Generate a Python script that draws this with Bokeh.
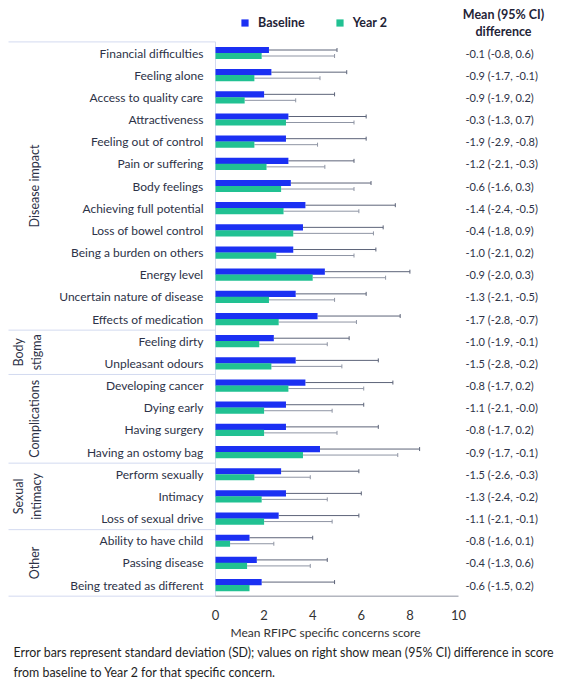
import math
import pandas as pd
from bokeh.plotting import figure
from bokeh.models import (ColumnDataSource, Range1d, FixedTicker, Whisker, TeeHead,
                          Legend, LegendItem, Label, Title)
from bokeh.embed import file_html
from bokeh.resources import INLINE
from bokeh.core.properties import value

# ---------------- data ----------------
concerns = [
    "Financial difficulties", "Feeling alone", "Access to quality care", "Attractiveness",
    "Feeling out of control", "Pain or suffering", "Body feelings", "Achieving full potential",
    "Loss of bowel control", "Being a burden on others", "Energy level",
    "Uncertain nature of disease", "Effects of medication",
    "Feeling dirty", "Unpleasant odours",
    "Developing cancer", "Dying early", "Having surgery", "Having an ostomy bag",
    "Perform sexually", "Intimacy", "Loss of sexual drive",
    "Ability to have child", "Passing disease", "Being treated as different",
]
groups = ["Disease impact", "Body\nstigma", "Complications", "Sexual\nintimacy", "Other"]
group_sizes = [13, 2, 4, 3, 3]

baseline_mean = [2.2, 2.3, 2.0, 3.0, 2.9, 3.0, 3.1, 3.7, 3.6, 3.2, 4.5, 3.3, 4.2,
                 2.4, 3.3, 3.7, 2.9, 2.9, 4.3, 2.7, 2.9, 2.6, 1.4, 1.7, 1.9]
baseline_sd = [2.8, 3.1, 2.9, 3.2, 3.3, 2.7, 3.3, 3.7, 3.3, 3.4, 3.5, 2.9, 3.4,
               3.1, 3.4, 3.6, 3.2, 3.8, 4.1, 3.2, 3.1, 3.3, 2.6, 2.9, 3.0]
year2_mean = [1.9, 1.6, 1.2, 2.9, 1.6, 2.1, 2.7, 2.8, 3.2, 2.5, 4.0, 2.2, 2.6,
              1.8, 2.3, 3.0, 2.0, 2.0, 3.6, 1.6, 1.9, 2.0, 0.6, 1.3, 1.4]
year2_sd = [3.0, 2.7, 2.1, 2.8, 2.6, 2.4, 3.0, 3.1, 3.3, 3.2, 3.0, 2.7, 3.2,
            2.8, 2.9, 3.1, 2.8, 3.0, 3.9, 2.3, 2.7, 2.8, 1.8, 2.6, float("nan")]
difference = [
    "-0.1 (-0.8, 0.6)", "-0.9 (-1.7, -0.1)", "-0.9 (-1.9, 0.2)", "-0.3 (-1.3, 0.7)",
    "-1.9 (-2.9, -0.8)", "-1.2 (-2.1, -0.3)", "-0.6 (-1.6, 0.3)", "-1.4 (-2.4, -0.5)",
    "-0.4 (-1.8, 0.9)", "-1.0 (-2.1, 0.2)", "-0.9 (-2.0, 0.3)", "-1.3 (-2.1, -0.5)",
    "-1.7 (-2.8, -0.7)", "-1.0 (-1.9, -0.1)", "-1.5 (-2.8, -0.2)", "-0.8 (-1.7, 0.2)",
    "-1.1 (-2.1, -0.0)", "-0.8 (-1.7, 0.2)", "-0.9 (-1.7, -0.1)", "-1.5 (-2.6, -0.3)",
    "-1.3 (-2.4, -0.2)", "-1.1 (-2.1, -0.1)", "-0.8 (-1.6, 0.1)", "-0.4 (-1.3, 0.6)",
    "-0.6 (-1.5, 0.2)",
]
x_ticks = [0, 2, 4, 6, 8, 10]
series_labels = ["Baseline", "Year 2"]
header = ["Mean (95% CI)", "difference"]
x_title = "Mean RFIPC specific concerns score"
caption = ["Error bars represent standard deviation (SD); values on right show mean (95% CI) difference in score",
           "from baseline to Year 2 for that specific concern."]

# ---------------- layout / style ----------------
W, H = 561, 679
FRAME_H = 597
X0_PX, PX_PER_UNIT = 215.0, 24.3
ROW0_PX, ROW_PX = 52.5, 22.17
X_START = -X0_PX / PX_PER_UNIT
X_END = X_START + W / PX_PER_UNIT
Y_TOP = -ROW0_PX / ROW_PX
Y_BOTTOM = Y_TOP + FRAME_H / ROW_PX


def px_x(px):
    return X_START + px / PX_PER_UNIT


def px_y(py):
    return Y_TOP + py / ROW_PX


BLUE = "#1b30f3"
GREEN = "#21c192"
TEXT = "#2d3247"
SEP = "#d3daf0"
FONT = "Lato"
OFF = 3.0 / ROW_PX
BAR_H = 6.2 / ROW_PX

n = len(concerns)
df = pd.DataFrame({
    "concern": concerns,
    "row": list(range(n)),
    "bm": baseline_mean, "bsd": baseline_sd,
    "ym": year2_mean, "ysd": year2_sd,
    "diff": difference,
})
df["yb"] = df["row"] - OFF
df["yy"] = df["row"] + OFF
df["bhi"] = df["bm"] + df["bsd"]
df["yhi"] = df["ym"] + df["ysd"]
src = ColumnDataSource(df)
src_yw = ColumnDataSource(df[df["ysd"].notna()])

p = figure(width=W, height=H, output_backend="svg", toolbar_location=None,
           x_range=Range1d(X_START, X_END), y_range=Range1d(Y_BOTTOM, Y_TOP),
           y_axis_location=None, min_border_left=0, min_border_right=0,
           min_border_top=0, min_border_bottom=H - FRAME_H)
p.outline_line_color = None
p.xgrid.visible = False
p.ygrid.visible = False
p.background_fill_color = "white"
p.border_fill_color = "white"

ax = p.xaxis[0]
ax.ticker = FixedTicker(ticks=x_ticks)
ax.axis_line_color = None
ax.major_tick_line_color = None
ax.minor_tick_line_color = None
ax.major_label_text_font = FONT
ax.major_label_text_font_size = "13px"
ax.major_label_text_color = "#333333"
ax.major_label_standoff = 6

# group separators and left frame lines
bounds = [-0.5]
for s in group_sizes:
    bounds.append(bounds[-1] + s)
p.segment(x0=px_x(8), x1=0, y0=bounds, y1=bounds, line_color=SEP, line_width=1)
p.segment(x0=[0], x1=[0], y0=[-0.5], y1=[n - 0.5], line_color=SEP, line_width=1)
p.segment(x0=[0], x1=[x_ticks[-1]], y0=[n - 0.5], y1=[n - 0.5], line_color="#8c919e", line_width=1)

# bars
rb = p.hbar(y="yb", left=0, right="bm", height=BAR_H, source=src, fill_color=BLUE, line_color=None)
ry = p.hbar(y="yy", left=0, right="ym", height=BAR_H, source=src, fill_color=GREEN, line_color=None)

# error bars
p.add_layout(Whisker(source=src, base="yb", lower="bm", upper="bhi", dimension="width",
                     line_color="#5d6479", line_width=1, lower_head=None,
                     upper_head=TeeHead(size=4, line_color="#5d6479", line_width=1)))
p.add_layout(Whisker(source=src_yw, base="yy", lower="ym", upper="yhi", dimension="width",
                     line_color="#8f95a4", line_width=1, lower_head=None,
                     upper_head=TeeHead(size=4, line_color="#8f95a4", line_width=1)))

# category labels
p.text(x=px_x(203), y="row", text="concern", source=src, text_align="right",
       text_baseline="middle", text_font=value(FONT), text_font_size="12px", text_color=TEXT)

# group labels
g_y, g_x = [], []
start = 0
for g, s in zip(groups, group_sizes):
    g_y.append(start + s / 2 - 0.5)
    g_x.append(px_x(27) if "\n" in g else px_x(34))
    start += s
p.text(x=g_x, y=g_y, text=groups, angle=math.pi / 2, text_align="center",
       text_baseline="middle", text_font=value(FONT), text_font_size="12.5px",
       text_color=TEXT, text_line_height=1.25)

# right column
p.text(x=px_x(465), y="row", text="diff", source=src, text_align="left",
       text_baseline="middle", text_font=value(FONT), text_font_size="11px", text_color=TEXT)

# header
for txt, py in zip(header, [14, 31]):
    p.add_layout(Label(x=px_x(503), y=px_y(py), text=txt, text_align="center",
                       text_baseline="middle", text_font=FONT, text_font_size="12.5px",
                       text_font_style="bold", text_color="#1f2437"))

# legend
legend = Legend(items=[LegendItem(label=series_labels[0], renderers=[rb]),
                       LegendItem(label=series_labels[1], renderers=[ry])],
                location=(240, FRAME_H - 30), orientation="horizontal",
                border_line_color=None, background_fill_alpha=0, padding=0, margin=0,
                spacing=30, label_standoff=9, glyph_width=9, glyph_height=9, label_height=9,
                label_text_font=FONT, label_text_font_size="12.5px",
                label_text_font_style="bold", label_text_color="#1f2437")
p.add_layout(legend)

# axis title and caption (stacked below the axis)
p.add_layout(Title(text=x_title, align="left", offset=230, standoff=0,
                   text_font=FONT, text_font_size="12px", text_font_style="normal",
                   text_color="#333333"), "below")
p.add_layout(Title(text=caption[0], align="left", offset=13, standoff=6,
                   text_font=FONT, text_font_size="12.4px", text_font_style="normal",
                   text_color="#1e1e1e"), "below")
p.add_layout(Title(text=caption[1], align="left", offset=13, standoff=0,
                   text_font=FONT, text_font_size="12.4px", text_font_style="normal",
                   text_color="#1e1e1e"), "below")

open("out.html", "w").write(file_html(p, INLINE, title="RFIPC specific concerns"))
